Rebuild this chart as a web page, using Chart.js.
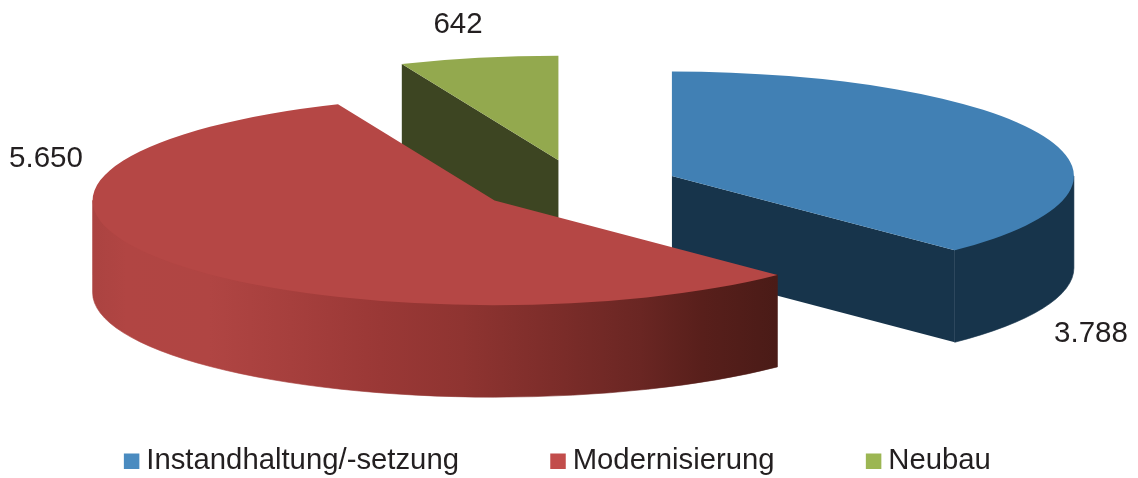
<!DOCTYPE html>
<html lang="de">
<head>
<meta charset="utf-8">
<title>Investitionen</title>
<script src="https://cdn.jsdelivr.net/npm/chart.js@4/dist/chart.umd.js"></script>
<style>
  html, body { margin: 0; background: #fff; }
  canvas { display: block; }
</style>
</head>
<body>
<canvas id="cv" width="1138" height="478"></canvas>
<script>
const categories = ["Instandhaltung/-setzung", "Modernisierung", "Neubau"];
const values = [3788, 5650, 642];

const topColors = ["#4180b4", "#b54745", "#93a94e"];
const sideColors = ["#17344b", "#4a1b17", "#3d4522"];
const legendColors = ["#4a8bc0", "#c24d4b", "#9cb653"];

// Platz der Wertebeschriftung (Mitte des Textes)
const labelSpots = [[1091, 333.5], [46, 158.5], [458, 25]];

// Mantel vom roten Stueck: links hell, rechts fast schwarz
const rimStops = [
    [0, "#ab4341"], [0.05, "#b14543"], [0.17, "#b04543"], [0.29, "#a63f3d"],
    [0.42, "#9a3836"], [0.54, "#8f3431"], [0.67, "#7d2d2a"], [0.8, "#6a2623"],
    [0.89, "#581f1b"], [1, "#4a1b17"]
];

// Perspektive der Torte
const pie = {cx: 578.5, cy: 186, squash: 0.26, depth: 92, explode: 101};
const legendPos = {x: -7.75, top: 347.5};
const textColor = "#231f20";
const fontFamily = "'Liberation Sans', Arial, sans-serif";

function sideFace(ctx, x, y, r, a) {
    let ex = x + Math.cos(a) * r;
    let ey = y + Math.sin(a) * r * pie.squash;
    ctx.beginPath();
    ctx.moveTo(x, y);
    ctx.lineTo(ex, ey);
    ctx.lineTo(ex, ey + pie.depth);
    ctx.lineTo(x, y + pie.depth);
    ctx.closePath();
    ctx.fill();
}

function rim(ctx, x, y, r, a0, a1) {
    // nur der vordere Teil vom Rand ist sichtbar
    let from = Math.max(a0, 0);
    let to = Math.min(a1, Math.PI);
    if (to <= from) return;
    let ry = r * pie.squash;
    ctx.beginPath();
    // oben nur die Sehne, die Deckflaeche liegt sowieso darueber
    ctx.moveTo(x + Math.cos(from) * r, y + Math.sin(from) * ry);
    ctx.lineTo(x + Math.cos(to) * r, y + Math.sin(to) * ry);
    ctx.ellipse(x, y + pie.depth, r, ry, 0, to, from, true);
    ctx.closePath();
    ctx.fill();
    ctx.stroke();
}

const pie3d = {
    id: "pie3d",
    afterLayout(chart) {
        // Legende sitzt nicht mittig unter dem Chart
        let lg = chart.legend;
        let dy = legendPos.top - lg.top;
        lg.left += legendPos.x;
        lg.right += legendPos.x;
        lg.top += dy;
        lg.bottom += dy;
    },
    beforeDatasetDraw(chart, args) {
        let ctx = chart.ctx;
        let arcs = args.meta.data;
        // hinten nach vorne zeichnen: Neubau, Instandhaltung, Modernisierung
        [2, 0, 1].forEach((i) => {
            let arc = arcs[i];
            let mid = (arc.startAngle + arc.endAngle) / 2;
            let x = pie.cx + Math.cos(mid) * pie.explode;
            let y = pie.cy + Math.sin(mid) * pie.explode * pie.squash;
            let r = arc.outerRadius;

            ctx.save();
            ctx.fillStyle = sideColors[i];
            ctx.strokeStyle = sideColors[i];
            ctx.lineWidth = 0.6;
            // beim roten Stueck liegen die Schnittflaechen komplett hinter der Deckflaeche
            if (i !== 1) {
                sideFace(ctx, x, y, r, arc.startAngle);
                sideFace(ctx, x, y, r, arc.endAngle);
            }

            if (i === 1) {
                let grad = ctx.createLinearGradient(x - r, 0, x + Math.cos(arc.startAngle) * r, 0);
                rimStops.forEach((s) => grad.addColorStop(s[0], s[1]));
                ctx.fillStyle = grad;
                ctx.strokeStyle = grad;
            }
            // Winkel laufen ab -PI/2, der Bereich vorn liegt zwischen 0 und PI
            rim(ctx, x, y, r, arc.startAngle, arc.endAngle);

            ctx.translate(x, y);
            ctx.scale(1, pie.squash);
            ctx.translate(-arc.x, -arc.y);
            arc.draw(ctx);
            ctx.restore();
        });
        return false;
    },
    afterDatasetsDraw(chart) {
        let ctx = chart.ctx;
        ctx.save();
        ctx.fillStyle = textColor;
        ctx.font = "29.5px " + fontFamily;
        ctx.textAlign = "center";
        ctx.textBaseline = "middle";
        values.forEach((v, i) => {
            ctx.fillText(v.toLocaleString("de-DE"), labelSpots[i][0], labelSpots[i][1]);
        });
        ctx.restore();
    }
};

new Chart(document.getElementById("cv").getContext("2d"), {
    type: "pie",
    data: {
        labels: categories,
        datasets: [{
            data: values,
            backgroundColor: topColors,
            borderWidth: 0
        }]
    },
    options: {
        responsive: false,
        animation: false,
        radius: 402,
        events: [],
        plugins: {
            tooltip: {enabled: false},
            legend: {
                position: "bottom",
                labels: {
                    usePointStyle: true,
                    pointStyle: "rect",
                    boxWidth: 0.01,
                    boxHeight: 15.5,
                    padding: 99,
                    color: textColor,
                    font: {family: fontFamily, size: 29.3},
                    generateLabels(chart) {
                        let items = Chart.overrides.pie.plugins.legend.labels.generateLabels(chart);
                        return items.map((it, i) => ({...it, fillStyle: legendColors[i], strokeStyle: legendColors[i], lineWidth: 0}));
                    }
                }
            }
        }
    },
    plugins: [pie3d]
});
</script>
</body>
</html>
